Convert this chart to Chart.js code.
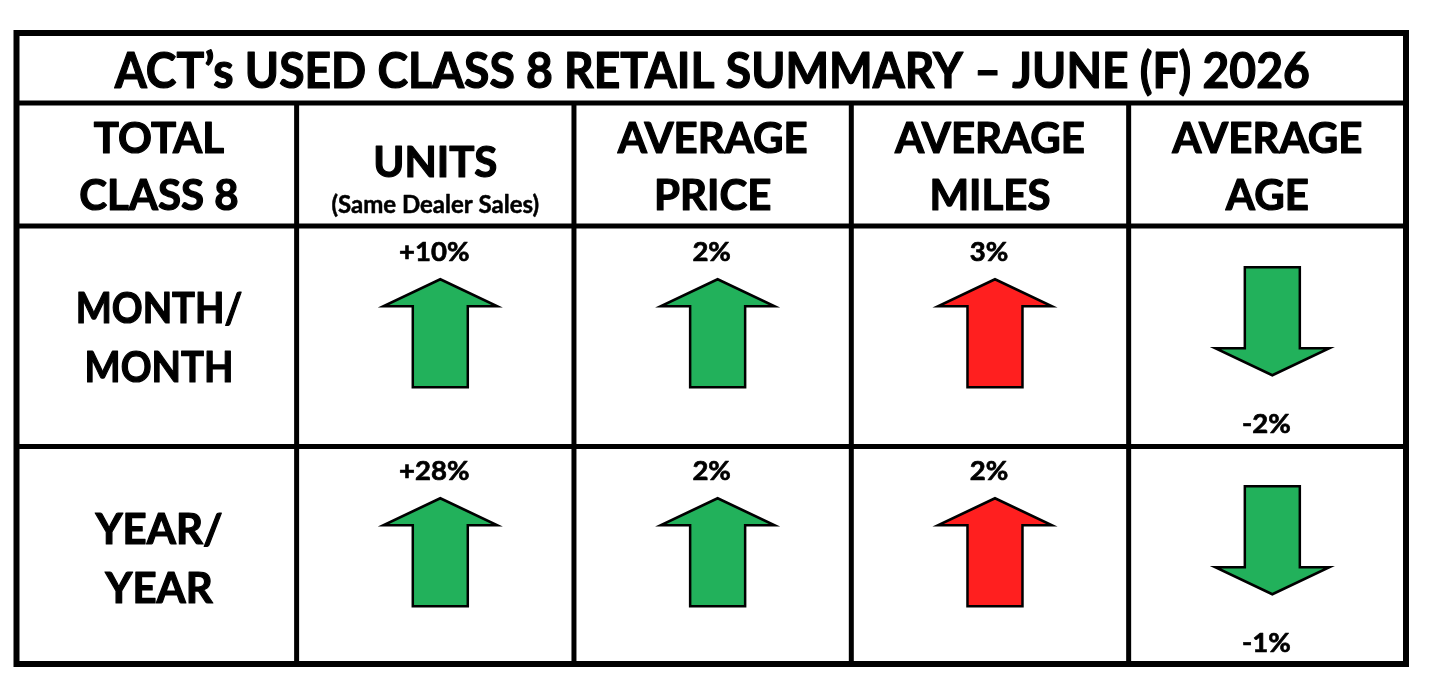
<!DOCTYPE html>
<html><head><meta charset="utf-8">
<script src="https://cdn.jsdelivr.net/npm/chart.js@4.4.1/dist/chart.umd.min.js"></script>
<style>html,body{margin:0;padding:0;background:#fff;overflow:hidden}#wrap{width:1433px;height:691px;position:relative}</style>
</head><body><div id="wrap"><canvas id="c"></canvas></div>
<script>
// ---- data ----
const chartTitle = "ACT\u2019s USED CLASS 8 RETAIL SUMMARY \u2013 JUNE (F) 2026";
const cornerLabel = ["TOTAL", "CLASS 8"];
const categories = [["UNITS"], ["AVERAGE", "PRICE"], ["AVERAGE", "MILES"], ["AVERAGE", "AGE"]];
const categoryNotes = ["(Same Dealer Sales)", "", "", ""];
const periods = [["MONTH/", "MONTH"], ["YEAR/", "YEAR"]];
const monthOverMonth = [10, 2, 3, -2];
const yearOverYear = [28, 2, 2, -1];
const monthLabels = ["+10%", "2%", "3%", "-2%"];
const yearLabels = ["+28%", "2%", "2%", "-1%"];
const favourable = [true, true, false, true];

// ---- layout / style ----
const ROW_EDGES = [0, 0.70, 1.93, 4.135, 6.31];
const GREEN = "#22B15B", RED = "#FF1F1F";
const FONT = "Lato";
const PERIOD_SX = [0.91, 1];

function rowCenter(r) { return (ROW_EDGES[r] + ROW_EDGES[r + 1]) / 2; }

function txt(ctx, s, x, y, size, sx, sw) {
  ctx.save();
  ctx.font = "bold " + size + "px " + FONT;
  ctx.fillStyle = "#000";
  ctx.strokeStyle = "#000";
  ctx.textAlign = "center";
  ctx.textBaseline = "alphabetic";
  ctx.translate(x, y);
  ctx.scale(sx || 1, 1);
  ctx.fillText(s, 0, 0);
  if (sw) { ctx.lineWidth = sw; ctx.lineJoin = "round"; ctx.strokeText(s, 0, 0); }
  ctx.restore();
}

function arrow(ctx, cx, cy, dir, color) {
  const H = 54, head = 27, hw = 57, sw = 27.5;
  const tipY = cy + dir * H, baseY = cy - dir * H, hb = tipY - dir * head;
  ctx.save();
  ctx.beginPath();
  ctx.moveTo(cx, tipY);
  ctx.lineTo(cx + hw, hb);
  ctx.lineTo(cx + sw, hb);
  ctx.lineTo(cx + sw, baseY);
  ctx.lineTo(cx - sw, baseY);
  ctx.lineTo(cx - sw, hb);
  ctx.lineTo(cx - hw, hb);
  ctx.closePath();
  ctx.fillStyle = color;
  ctx.fill();
  ctx.lineWidth = 2.5;
  ctx.lineJoin = "miter";
  ctx.miterLimit = 10;
  ctx.strokeStyle = "#000";
  ctx.stroke();
  ctx.restore();
  return tipY;
}

const tablePlugin = {
  id: "table",
  afterDraw(chart) {
    const ctx = chart.ctx, xs = chart.scales.x, ys = chart.scales.y, a = chart.chartArea;
    ctx.save();
    ctx.strokeStyle = "#000";
    ctx.lineWidth = 5;
    for (let r = 1; r < ROW_EDGES.length - 1; r++) {
      const y = ys.getPixelForValue(ROW_EDGES[r]);
      ctx.beginPath(); ctx.moveTo(a.left, y); ctx.lineTo(a.right, y); ctx.stroke();
    }
    const yTop = ys.getPixelForValue(ROW_EDGES[1]);
    for (let c = 1; c <= categories.length; c++) {
      const x = xs.getPixelForValue(c);
      ctx.beginPath(); ctx.moveTo(x, yTop); ctx.lineTo(x, a.bottom); ctx.stroke();
    }
    ctx.lineWidth = 6;
    ctx.strokeRect(a.left, a.top, a.right - a.left, a.bottom - a.top);
    ctx.restore();

    const cx = (a.left + a.right) / 2;
    txt(ctx, chartTitle, cx + 1, ys.getPixelForValue(ROW_EDGES[0]) + 55, 49, 0.943, 1.2);
    const hTop = ys.getPixelForValue(ROW_EDGES[1]);
    const c0 = xs.getPixelForValue(0.5);
    txt(ctx, cornerLabel[0], c0 + 1, hTop + 50, 42, 1, 1.2);
    txt(ctx, cornerLabel[1], c0 + 1, hTop + 107, 42, 1, 1.2);
    categories.forEach((lines, i) => {
      const x = xs.getPixelForValue(i + 1.5);
      if (lines.length === 1) {
        txt(ctx, lines[0], x, hTop + 74, 42, 1, 1.2);
        if (categoryNotes[i]) txt(ctx, categoryNotes[i], x, hTop + 110, 24, 1, 0.5);
      } else {
        txt(ctx, lines[0], x, hTop + 50, 42, 1, 1.2);
        txt(ctx, lines[1], x, hTop + 107, 42, 1, 1.2);
      }
    });
    periods.forEach((lines, r) => {
      const top = ys.getPixelForValue(ROW_EDGES[r + 2]);
      txt(ctx, lines[0], c0 + 1, top + 97, 42, PERIOD_SX[r], 1.2);
      txt(ctx, lines[1], c0 + 1, top + 156, 42, PERIOD_SX[r], 1.2);
    });
  },
  afterDatasetsDraw(chart) {
    const ctx = chart.ctx;
    chart.data.datasets.forEach((ds, di) => {
      const meta = chart.getDatasetMeta(di);
      meta.data.forEach((el, i) => {
        const v = ds.values[i];
        const dir = v >= 0 ? -1 : 1;
        const cy = el.y + (dir < 0 ? -3 : -15);
        const tipY = arrow(ctx, el.x + 5, cy, dir, favourable[i] ? GREEN : RED);
        const ly = dir < 0 ? tipY - 18 : tipY + 58;
        txt(ctx, ds.labels[i], el.x - 1, ly, 27.5, 1, 0.7);
      });
    });
  }
};

function pts(vals, row) { return vals.map((v, i) => ({ x: i + 1.5, y: rowCenter(row) })); }

new Chart(document.getElementById("c"), {
  type: "scatter",
  data: {
    datasets: [
      { label: "Month/Month", data: pts(monthOverMonth, 2), values: monthOverMonth, labels: monthLabels, pointRadius: 0, pointHoverRadius: 0 },
      { label: "Year/Year", data: pts(yearOverYear, 3), values: yearOverYear, labels: yearLabels, pointRadius: 0, pointHoverRadius: 0 }
    ]
  },
  options: {
    responsive: true,
    maintainAspectRatio: false,
    animation: false,
    events: [],
    layout: { padding: { left: 16.5, right: 27, top: 33, bottom: 27 } },
    plugins: { legend: { display: false }, tooltip: { enabled: false }, title: { display: false } },
    scales: {
      x: { type: "linear", min: -0.01, max: 5, display: false },
      y: { type: "linear", min: ROW_EDGES[0], max: ROW_EDGES[ROW_EDGES.length - 1], reverse: true, display: false }
    }
  },
  plugins: [tablePlugin]
});
</script>
</body></html>
